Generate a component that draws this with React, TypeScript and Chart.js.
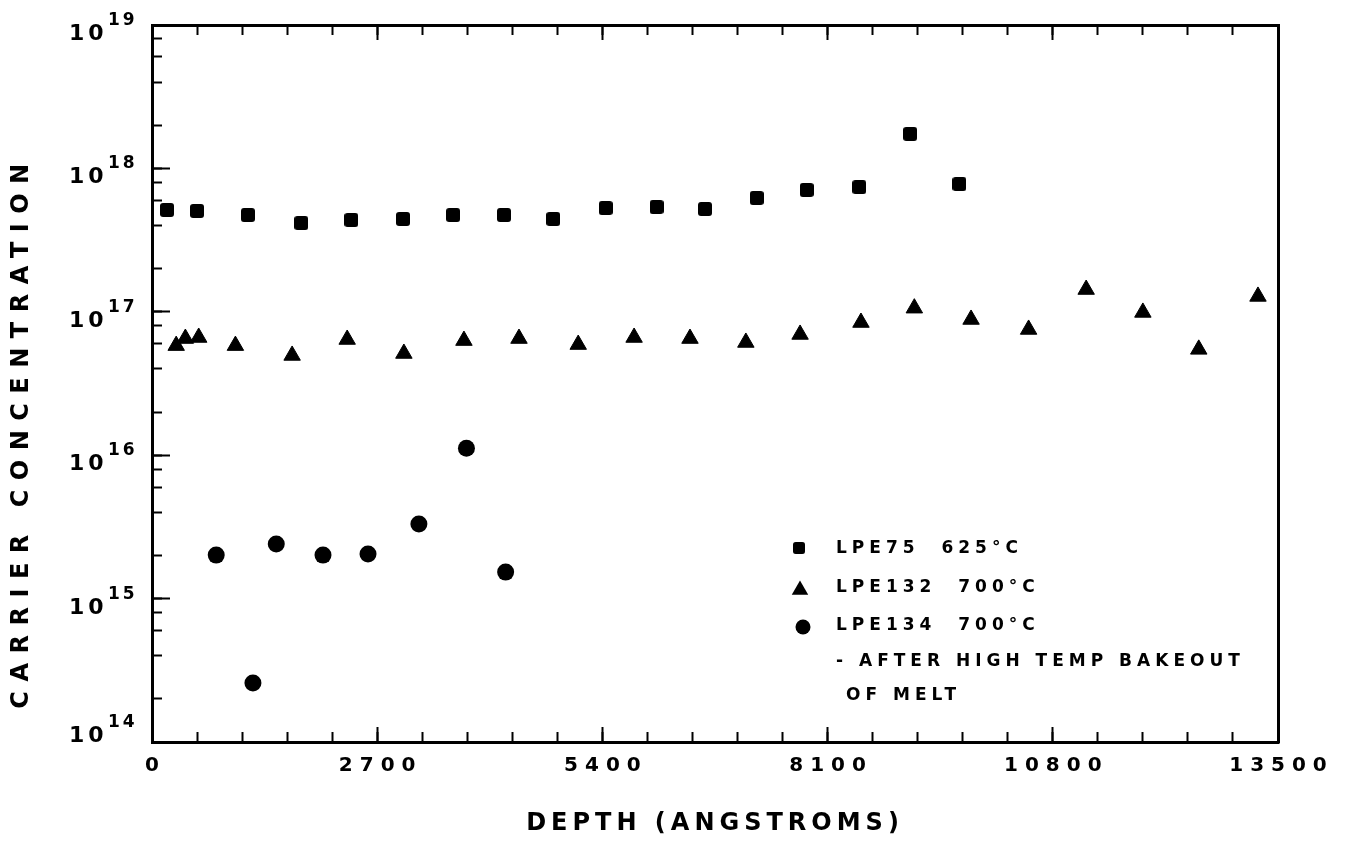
import React, { useEffect, useRef } from 'react';
import { Chart, registerables } from 'chart.js';

Chart.register(...registerables);

const FONT = '"DejaVu Sans", "Liberation Sans", sans-serif';
const INK = '#000000';

// ---- data ----
const lpe75Depth = [180, 540, 1150, 1790, 2390, 3010, 3610, 4220, 4810, 5440, 6050, 6630, 7250, 7850, 8480, 9090, 9680];
const lpe75Conc = [5.13e17, 5.05e17, 4.73e17, 4.16e17, 4.37e17, 4.44e17, 4.73e17, 4.73e17, 4.44e17, 5.29e17, 5.38e17, 5.21e17, 6.22e17, 7.07e17, 7.41e17, 1.74e18, 7.78e17];

const lpe132Depth = [290, 400, 560, 1000, 1680, 2340, 3020, 3740, 4400, 5110, 5780, 6450, 7120, 7770, 8500, 9140, 9820, 10510, 11200, 11880, 12550, 13260];
const lpe132Conc = [5.81e16, 6.51e16, 6.62e16, 5.81e16, 4.96e16, 6.41e16, 5.12e16, 6.3e16, 6.51e16, 5.91e16, 6.62e16, 6.51e16, 6.11e16, 6.95e16, 8.42e16, 1.06e17, 8.84e16, 7.53e16, 1.43e17, 9.9e16, 5.47e16, 1.28e17];

const lpe134Depth = [770, 1210, 1490, 2050, 2590, 3200, 3770, 4240];
const lpe134Conc = [2.01e15, 2.58e14, 2.4e15, 2.01e15, 2.05e15, 3.31e15, 1.12e16, 1.53e15];

const xTickLabels = ['0', '2700', '5400', '8100', '10800', '13500'];
const xMinorStep = 540;
const yDecadeExponents = [14, 15, 16, 17, 18, 19];
const yMinorMantissas = [2, 4, 6, 8];

const legendLabels = ['LPE75  625°C', 'LPE132  700°C', 'LPE134  700°C'];
const legendNotes = ['- AFTER HIGH TEMP BAKEOUT', 'OF MELT'];
const xTitle = 'DEPTH (ANGSTROMS)';
const yTitle = 'CARRIER CONCENTRATION';

function wrapTitle(scale: any, spacing: string, dy: number) {
  if (!scale || scale.__wrapped) return;
  const orig = scale.drawTitle.bind(scale);
  scale.drawTitle = () => {
    const c = scale.ctx;
    c.save();
    c.letterSpacing = spacing;
    c.translate(0, dy);
    orig();
    c.restore();
  };
  scale.__wrapped = true;
}

export default function App() {
  const ref = useRef<HTMLCanvasElement>(null);

  useEffect(() => {
    const canvas = ref.current;
    if (!canvas) return;

    const xMajor = xTickLabels.map(Number);
    const xMin = xMajor[0];
    const xMax = xMajor[xMajor.length - 1];
    const xMinor: number[] = [];
    for (let v = xMin; v <= xMax; v += xMinorStep) xMinor.push(v);

    const yMajor = yDecadeExponents.map((e) => Number('1e' + e));
    const yMin = yMajor[0];
    const yMax = yMajor[yMajor.length - 1];
    const yMinor: number[] = [];
    yDecadeExponents.forEach((e, i) => {
      yMinor.push(Number('1e' + e));
      if (i < yDecadeExponents.length - 1) {
        yMinorMantissas.forEach((m) => yMinor.push(Number(m + 'e' + e)));
      }
    });

    // rounded square marker
    const square = document.createElement('canvas');
    square.width = 14;
    square.height = 14;
    const sctx = square.getContext('2d')!;
    sctx.fillStyle = INK;
    sctx.beginPath();
    (sctx as any).roundRect(0, 0, 14, 14, 3);
    sctx.fill();

    const setTicks = (vals: number[]) => (scale: any) => {
      scale.ticks = vals.map((v) => ({ value: v }));
    };
    const fixW = (w: number) => (scale: any) => {
      scale.width = w;
    };
    const fixH = (h: number) => (scale: any) => {
      scale.height = h;
    };
    const tickGrid = (len: number) => ({
      display: true,
      drawOnChartArea: false,
      drawTicks: true,
      tickLength: len,
      tickWidth: 2,
      tickColor: INK,
    });
    const frame = { display: true, width: 3, color: INK };
    const noBorder = { display: false };
    const noLabels = { display: false };

    const decor = {
      id: 'decor',
      beforeDraw(chart: any) {
        chart.ctx.letterSpacing = '7px';
        wrapTitle(chart.scales.x, '5px', 0);
        wrapTitle(chart.scales.y, '9.5px', 48);
      },
      afterDraw(chart: any) {
        const ctx = chart.ctx;
        const ys = chart.scales.y;
        ctx.save();
        ctx.fillStyle = INK;
        ctx.textAlign = 'left';
        ctx.textBaseline = 'alphabetic';
        // y tick labels: 10 with superscript exponent
        yDecadeExponents.forEach((e, i) => {
          const py = ys.getPixelForValue(yMajor[i]);
          const base = i === 0 ? py : py + 15;
          ctx.font = `bold 22px ${FONT}`;
          ctx.letterSpacing = '4px';
          ctx.fillText('10', 69, base);
          ctx.font = `bold 17px ${FONT}`;
          ctx.letterSpacing = '3px';
          ctx.fillText(String(e), 108, base - 15);
        });

        // legend symbols
        ctx.drawImage(square, 793, 542, 12, 12);
        const tx = 800, ty = 590, tr = 9.5;
        ctx.beginPath();
        for (let k = 0; k < 3; k++) {
          const a = (k * 2 * Math.PI) / 3;
          const px = tx + Math.sin(a) * tr;
          const pyy = ty - Math.cos(a) * tr;
          if (k === 0) ctx.moveTo(px, pyy);
          else ctx.lineTo(px, pyy);
        }
        ctx.closePath();
        ctx.fill();
        ctx.beginPath();
        ctx.arc(803, 627, 7.5, 0, Math.PI * 2);
        ctx.fill();

        // legend text
        ctx.font = `bold 17px ${FONT}`;
        ctx.letterSpacing = '5px';
        ctx.textBaseline = 'middle';
        const rowsY = [549, 588, 626];
        legendLabels.forEach((t, i) => ctx.fillText(t, 836, rowsY[i]));
        ctx.fillText(legendNotes[0], 836, 662);
        ctx.fillText(legendNotes[1], 846, 696);
        ctx.restore();
      },
    };

    const chart = new Chart(canvas, {
      type: 'scatter',
      data: {
        datasets: [
          {
            label: legendLabels[0],
            data: lpe75Depth.map((x, i) => ({ x, y: lpe75Conc[i] })),
            pointStyle: square as any,
            pointRadius: 7,
            pointBackgroundColor: INK,
            pointBorderColor: INK,
            pointBorderWidth: 0,
            showLine: false,
          },
          {
            label: legendLabels[1],
            data: lpe132Depth.map((x, i) => ({ x, y: lpe132Conc[i] })),
            pointStyle: 'triangle',
            pointRadius: 9.5,
            pointBackgroundColor: INK,
            pointBorderColor: INK,
            pointBorderWidth: 1,
            showLine: false,
          },
          {
            label: legendLabels[2],
            data: lpe134Depth.map((x, i) => ({ x, y: lpe134Conc[i] })),
            pointStyle: 'circle',
            pointRadius: 8.5,
            pointBackgroundColor: INK,
            pointBorderColor: INK,
            pointBorderWidth: 0,
            showLine: false,
          },
        ],
      },
      options: {
        responsive: false,
        devicePixelRatio: 1,
        animation: false,
        events: [],
        layout: { padding: { left: 0, right: 67, top: 25, bottom: 0 } },
        plugins: {
          legend: { display: false },
          tooltip: { enabled: false },
        },
        scales: {
          x: {
            type: 'linear',
            position: 'bottom',
            weight: 1,
            min: xMin,
            max: xMax,
            afterBuildTicks: setTicks(xMinor),
            afterFit: fixH(100),
            grid: tickGrid(-10),
            border: frame,
            ticks: {
              autoSkip: false,
              maxRotation: 0,
              minRotation: 0,
              padding: 22,
              labelOffset: 3.5,
              color: INK,
              font: { family: FONT, size: 20, weight: 'bold' },
              callback: (v: any) => (xMajor.includes(Number(v)) ? String(v) : ''),
            },
            title: {
              display: true,
              text: xTitle,
              color: INK,
              font: { family: FONT, size: 24, weight: 'bold', lineHeight: 1 },
              padding: { top: 0, bottom: 6.5 },
            },
          },
          xMaj: {
            type: 'linear',
            axis: 'x',
            position: 'bottom',
            weight: 0,
            min: xMin,
            max: xMax,
            afterBuildTicks: setTicks(xMajor),
            afterFit: fixH(0),
            grid: tickGrid(-15),
            border: noBorder,
            ticks: noLabels,
          },
          xTop: {
            type: 'linear',
            axis: 'x',
            position: 'top',
            weight: 1,
            min: xMin,
            max: xMax,
            afterBuildTicks: setTicks(xMinor),
            afterFit: fixH(0),
            grid: tickGrid(-10),
            border: frame,
            ticks: noLabels,
          },
          xTopMaj: {
            type: 'linear',
            axis: 'x',
            position: 'top',
            weight: 0,
            min: xMin,
            max: xMax,
            afterBuildTicks: setTicks(xMajor),
            afterFit: fixH(0),
            grid: tickGrid(-15),
            border: noBorder,
            ticks: noLabels,
          },
          y: {
            type: 'logarithmic',
            position: 'left',
            weight: 1,
            min: yMin,
            max: yMax,
            afterBuildTicks: setTicks(yMinor),
            afterFit: fixW(152),
            grid: tickGrid(-10),
            border: frame,
            ticks: noLabels,
            title: {
              display: true,
              text: yTitle,
              color: INK,
              font: { family: FONT, size: 24, weight: 'bold', lineHeight: 1 },
              padding: { top: 10, bottom: 0 },
            },
          },
          yMaj: {
            type: 'logarithmic',
            axis: 'y',
            position: 'left',
            weight: 0,
            min: yMin,
            max: yMax,
            afterBuildTicks: setTicks(yMajor),
            afterFit: fixW(0),
            grid: tickGrid(-18),
            border: noBorder,
            ticks: noLabels,
          },
          yRight: {
            type: 'logarithmic',
            axis: 'y',
            position: 'right',
            min: yMin,
            max: yMax,
            afterFit: fixW(0),
            grid: { display: true, drawOnChartArea: false, drawTicks: false },
            border: frame,
            ticks: noLabels,
          },
        } as any,
      },
      plugins: [decor],
    } as any);

    return () => chart.destroy();
  }, []);

  return (
    <div style={{ position: 'absolute', left: 0, top: 0, width: 1345, height: 842, background: '#fff' }}>
      <canvas ref={ref} width={1345} height={842} style={{ display: 'block' }} />
    </div>
  );
}
